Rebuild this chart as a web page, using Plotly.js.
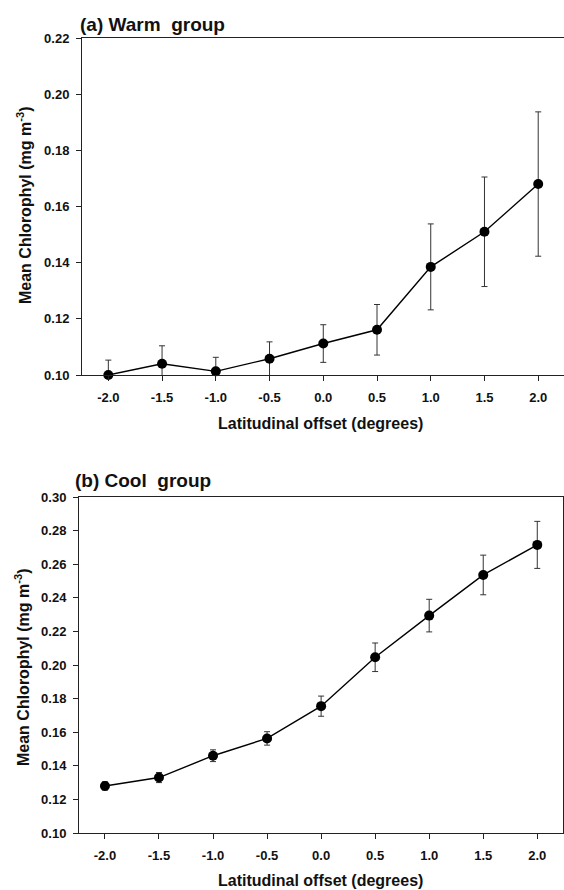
<!DOCTYPE html>
<html>
<head>
<meta charset="utf-8">
<script src="https://cdn.plot.ly/plotly-3.0.1.min.js"></script>
<style>html,body{margin:0;padding:0;background:#fff;}#chart{width:564px;height:890px;}</style>
</head>
<body>
<div id="chart"></div>
<script>
// ---- Data ----
const offsets = [-2.0, -1.5, -1.0, -0.5, 0.0, 0.5, 1.0, 1.5, 2.0];
const tickLabels = ["-2.0", "-1.5", "-1.0", "-0.5", "0.0", "0.5", "1.0", "1.5", "2.0"];
const warmMean = [0.100, 0.104, 0.1013, 0.1058, 0.1112, 0.1161, 0.1385, 0.151, 0.168];
const warmErr  = [0.0053, 0.0064, 0.005, 0.006, 0.0067, 0.009, 0.0153, 0.0195, 0.0257];
const coolMean = [0.128, 0.133, 0.146, 0.1563, 0.1755, 0.2046, 0.2294, 0.2536, 0.2715];
const coolErr  = [0.0025, 0.003, 0.0035, 0.004, 0.006, 0.0085, 0.0097, 0.0118, 0.014];
const warmYTicks = [0.10, 0.12, 0.14, 0.16, 0.18, 0.20, 0.22];
const coolYTicks = [0.10, 0.12, 0.14, 0.16, 0.18, 0.20, 0.22, 0.24, 0.26, 0.28, 0.30];

const W = 564, H = 890;
const FONT = 'Liberation Sans, Arial, Helvetica, sans-serif';
const px = v => v / W;
const py = v => 1 - v / H;

function trace(y, err, xa, ya) {
  return {
    x: offsets, y: y, xaxis: xa, yaxis: ya,
    type: 'scatter', mode: 'lines+markers',
    line: {color: '#000', width: 1.4},
    marker: {color: '#000', size: 10},
    error_y: {type: 'data', array: err, visible: true, color: '#333', thickness: 1, width: 3},
    cliponaxis: false, showlegend: false, hoverinfo: 'none'
  };
}

const tickFont = {family: FONT, size: 13, color: '#111', weight: 'bold'};
function xax(domain, range, anchor) {
  return {
    domain: domain, range: range, anchor: anchor, tickmode: 'array', tickvals: offsets, ticktext: tickLabels,
    showgrid: false, zeroline: false, showline: true, linecolor: '#222', linewidth: 1,
    mirror: true, ticks: 'outside', ticklen: 5, tickcolor: '#222', tickwidth: 1,
    tickfont: tickFont, ticklabelstandoff: 5, fixedrange: true
  };
}
function yax(domain, range, ticks, mirror, anchor) {
  return {
    domain: domain, range: range, anchor: anchor, tickmode: 'array', tickvals: ticks,
    ticktext: ticks.map(v => v.toFixed(2)),
    showgrid: false, zeroline: false, showline: true, linecolor: '#222', linewidth: 1,
    mirror: mirror, ticks: 'outside', ticklen: 5, tickcolor: '#222', tickwidth: 1,
    tickfont: tickFont, ticklabelstandoff: 4, fixedrange: true
  };
}

const titleFont = {family: FONT, size: 19, color: '#111', weight: 'bold'};
const axTitleFont = {family: FONT, size: 16, color: '#111', weight: 'bold'};

const layout = {
  width: W, height: H, margin: {l: 0, r: 0, t: 0, b: 0},
  paper_bgcolor: '#fff', plot_bgcolor: '#fff', showlegend: false,
  xaxis: xax([px(82), px(564)], [-2.245, 2.24], 'y'),
  yaxis: yax([1 - 375 / H, 1 - 38 / H], [0.10, 0.22], warmYTicks, false, 'x'),
  xaxis2: xax([px(79), px(563)], [-2.24, 2.238], 'y2'),
  yaxis2: yax([1 - 833 / H, 1 - 497 / H], [0.10, 0.30], coolYTicks, true, 'x2'),
  annotations: [
    {text: '(a) Warm&nbsp; group', xref: 'paper', yref: 'paper', x: px(78), y: py(24),
     xanchor: 'left', yanchor: 'middle', showarrow: false, font: titleFont},
    {text: '(b) Cool&nbsp; group', xref: 'paper', yref: 'paper', x: px(73), y: py(480),
     xanchor: 'left', yanchor: 'middle', showarrow: false, font: titleFont},
    {text: 'Latitudinal offset (degrees)', xref: 'paper', yref: 'paper', x: px(320), y: py(423),
     xanchor: 'center', yanchor: 'middle', showarrow: false, font: axTitleFont},
    {text: 'Latitudinal offset (degrees)', xref: 'paper', yref: 'paper', x: px(320), y: py(880),
     xanchor: 'center', yanchor: 'middle', showarrow: false, font: axTitleFont},
    {text: 'Mean Chlorophyl (mg m<sup>-3</sup>)', xref: 'paper', yref: 'paper', x: px(24), y: py(205),
     xanchor: 'center', yanchor: 'middle', textangle: -90, showarrow: false, font: axTitleFont},
    {text: 'Mean Chlorophyl (mg m<sup>-3</sup>)', xref: 'paper', yref: 'paper', x: px(22), y: py(667),
     xanchor: 'center', yanchor: 'middle', textangle: -90, showarrow: false, font: axTitleFont}
  ]
};

Plotly.newPlot('chart', [
  trace(warmMean, warmErr, 'x', 'y'),
  trace(coolMean, coolErr, 'x2', 'y2')
], layout, {displayModeBar: false, staticPlot: true});
</script>
</body>
</html>
